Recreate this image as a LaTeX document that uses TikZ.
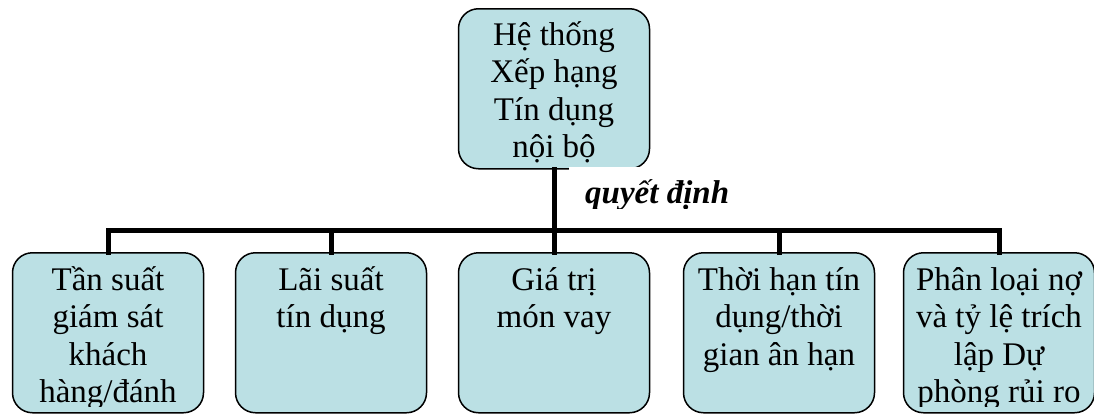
\documentclass[tikz,border=0pt]{standalone}
\usepackage{fontspec}
\setmainfont{Liberation Serif}
\definecolor{boxfill}{RGB}{187,224,228}
% stacked, centred lines whose baseline is that of the first line
\newcommand\stackedlines[1]{\begin{tabular}[t]{@{}c@{}}#1\end{tabular}}
\begin{document}
\begin{tikzpicture}[x=1pt,y=-1pt,
  card/.style={draw=black, line width=1.5pt, fill=boxfill, rounded corners=20pt,
    minimum width=191pt, minimum height=160pt, inner sep=0pt, anchor=north},
  cardtext/.style={anchor=base, inner sep=0pt,
    font=\fontsize{33}{37.5}\selectfont},
  conn/.style={line width=5pt, line join=miter, line cap=rect},
  tag/.style={anchor=base west, inner sep=0pt,
    font=\fontsize{33}{38}\selectfont\bfseries\itshape}]
\useasboundingbox (0,0) rectangle (1094,415);

% top box
\node[card] (top) at (554,8) {};
\node[cardtext] (toptxt) at (554,45) {\stackedlines{Hệ thống\\Xếp hạng\\Tín dụng\\nội bộ}};

% bottom row
\foreach \n/\x in {b1/108, b2/331, b3/554, b4/779, b5/999}
  \node[card] (\n) at (\x,252) {};

\coordinate (bus) at (554,230);

% tree connectors
\draw[conn] (top.south) -- (b3.north);
\draw[conn] (b1.north) -- (b1.north |- bus) -- (b5.north |- bus) -- (b5.north);
\foreach \n in {b2,b4}
  \draw[conn] (\n.north) -- (\n.north |- bus);

% box captions, cut off at the lower inner edge
\foreach \n/\t in {b1/{Tần suất\\giám sát\\khách\\hàng/đánh},
                   b2/{Lãi suất\\tín dụng},
                   b3/{Giá trị\\món vay},
                   b4/{Thời hạn tín\\dụng/thời\\gian ân hạn},
                   b5/{Phân loại nợ\\và tỷ lệ trích\\lập Dự\\phòng rủi ro}}{
  \begin{scope}
    \clip ([yshift=7.5pt]\n.south west) rectangle (\n.north east);
    \node[cardtext] (\n txt) at ([yshift=-38pt]\n.north) {\stackedlines{\t}};
  \end{scope}
}

% label of the link, on a white patch
\begin{scope}
  \clip (569,167) rectangle (760,208);
  \fill[white] (569,167) rectangle (760,208);
  \node[tag] (decide) at (585,203) {quyết định};
\end{scope}
\end{tikzpicture}
\end{document}
